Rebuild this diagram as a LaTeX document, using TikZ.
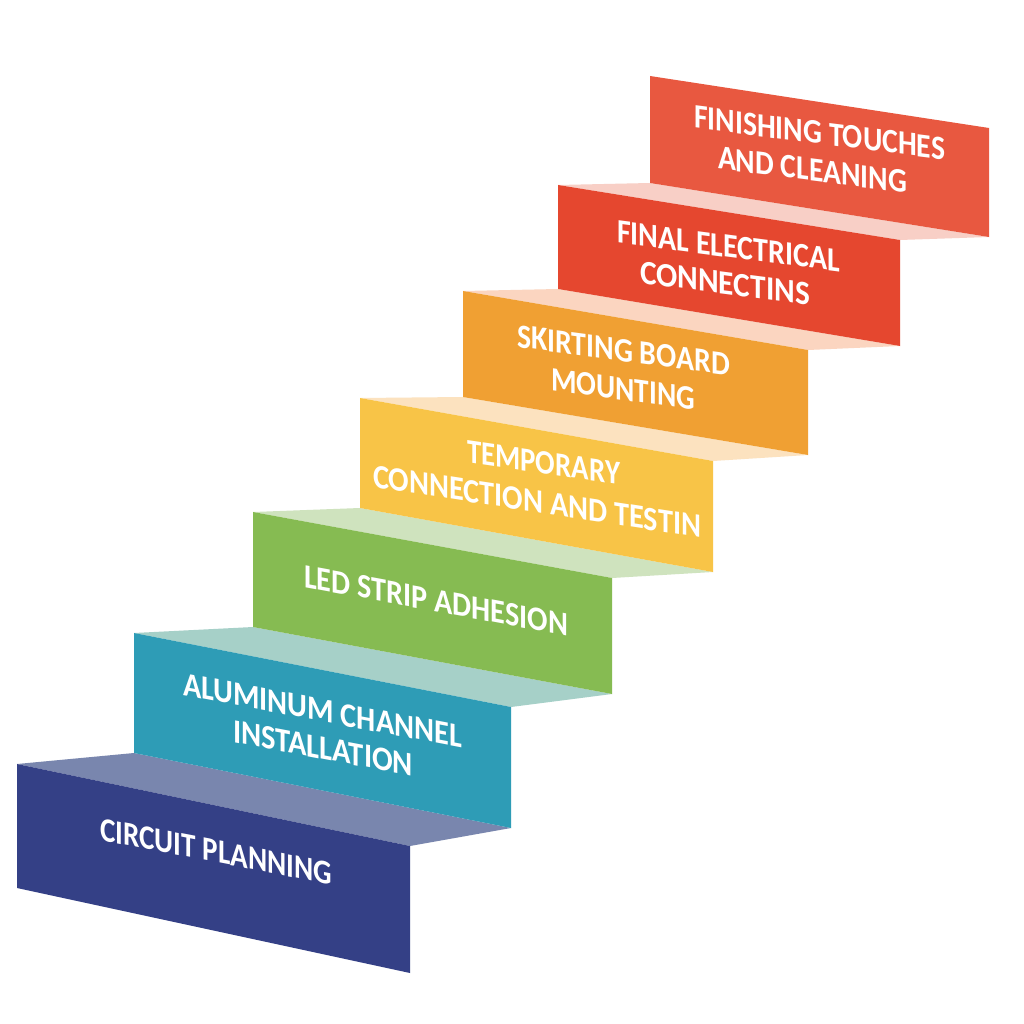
\documentclass[tikz,border=0pt]{standalone}
\usepackage{fontspec}
\setmainfont{Carlito}
\usepackage{graphicx}
\definecolor{fA}{RGB}{52,64,134}
\definecolor{tA}{RGB}{121,134,174}
\definecolor{fB}{RGB}{46,156,182}
\definecolor{tB}{RGB}{166,208,200}
\definecolor{fC}{RGB}{134,187,82}
\definecolor{tC}{RGB}{207,227,190}
\definecolor{fD}{RGB}{248,196,71}
\definecolor{tD}{RGB}{252,226,191}
\definecolor{fE}{RGB}{240,160,51}
\definecolor{tE}{RGB}{251,213,192}
\definecolor{fF}{RGB}{229,71,47}
\definecolor{tF}{RGB}{248,207,198}
\definecolor{fG}{RGB}{232,88,64}
\tikzset{
  steptext/.style={anchor=base west, inner sep=0pt, outer sep=0pt, text=white,
    font=\fontsize{34}{40}\selectfont\bfseries, transform shape},
}
\newcommand\stepline[6]{%
  \begin{scope}[shift={(#2,#3)}, yslant=#4]
    \node[steptext] (#1) at (0,0) {\resizebox{#5pt}{\height}{#6}};
  \end{scope}}
\begin{document}
\begin{tikzpicture}[x=1pt,y=-1pt]
\fill[white] (0,0) rectangle (1024,1024);
\useasboundingbox (0,0) rectangle (1024,1024);
% treads
\fill[tA] (17,764) -- (134,753) -- (511,828) -- (410,846) -- cycle;
\fill[tB] (134,633) -- (253,627) -- (612,694) -- (511,707) -- cycle;
\fill[tC] (253,512) -- (360,508) -- (713,572) -- (612,578) -- cycle;
\fill[tD] (360,398) -- (463,397) -- (808,455) -- (713,461) -- cycle;
\fill[tE] (463,291) -- (558,289) -- (900,346) -- (808,350) -- cycle;
\fill[tF] (558,185) -- (650,183) -- (989,237) -- (900,240) -- cycle;
% fronts
\fill[fA] (17,764) -- (410,846) -- (410,973) -- (17,888) -- cycle;
\fill[fB] (134,633) -- (511,707) -- (511,828) -- (134,753) -- cycle;
\fill[fC] (253,512) -- (612,578) -- (612,694) -- (253,627) -- cycle;
\fill[fD] (360,398) -- (713,461) -- (713,572) -- (360,508) -- cycle;
\fill[fE] (463,291) -- (808,350) -- (808,455) -- (463,397) -- cycle;
\fill[fF] (558,185) -- (900,240) -- (900,346) -- (558,289) -- cycle;
\fill[fG] (650,76) -- (989,128) -- (989,237) -- (650,183) -- cycle;
% labels
\stepline{l1}{100}{840}{-0.194}{232}{CIRCUIT PLANNING}
\stepline{l2a}{183}{695}{-0.19}{279}{ALUMINUM CHANNEL}
\stepline{l2b}{233}{742}{-0.19}{180}{INSTALLATION}
\stepline{l3}{304}{587}{-0.186}{264}{LED STRIP ADHESION}
\stepline{l4a}{467}{462}{-0.15}{153}{TEMPORARY}
\stepline{l4b}{373}{487}{-0.155}{328}{CONNECTION AND TESTIN}
\stepline{l5a}{517}{347}{-0.135}{213}{SKIRTING BOARD}
\stepline{l5b}{551}{390}{-0.14}{144}{MOUNTING}
\stepline{l6a}{617}{243}{-0.13}{223}{FINAL ELECTRICAL}
\stepline{l6b}{640}{283}{-0.13}{170}{CONNECTINS}
\stepline{l7a}{694}{128}{-0.127}{251}{FINISHING TOUCHES}
\stepline{l7b}{718}{169}{-0.127}{189}{AND CLEANING}
\end{tikzpicture}
\end{document}
